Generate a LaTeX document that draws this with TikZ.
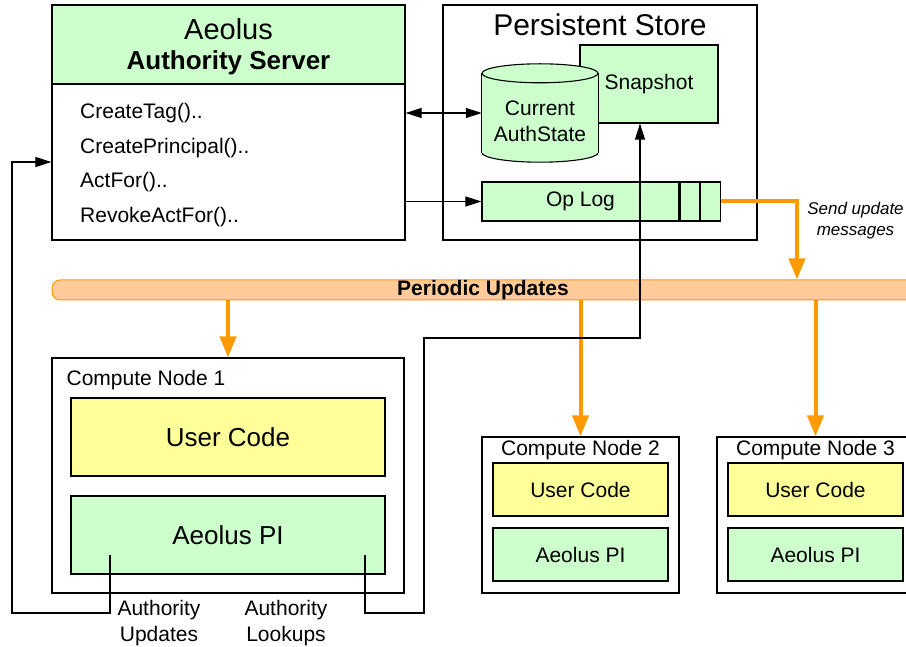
\documentclass[tikz,border=0pt]{standalone}
\usepackage{fontspec}
\setmainfont{Liberation Sans}
\usetikzlibrary{arrows.meta, calc, positioning}

\definecolor{paleGreen}{HTML}{CCFFCC}
\definecolor{paleYellow}{HTML}{FFFF99}
\definecolor{barFill}{HTML}{FFCC99}
\definecolor{barLine}{HTML}{FF9900}

\begin{document}
\begin{tikzpicture}[x=1pt, y=-1pt,
	>={Triangle[length=16pt, width=10pt]},
	box/.style={draw, line width=1.2pt, inner sep=0pt},
	greenbox/.style={box, fill=paleGreen},
	userbox/.style={box, fill=paleYellow},
	txt/.style={inner sep=0pt, align=center, font=\fontsize{21}{26}\selectfont},
	blk/.style={line width=1.1pt},
	upd/.style={barLine, line width=4pt, -{Triangle[length=21pt, width=16pt]}}]
	%    fixed frame of the picture
	\useasboundingbox (0,0) rectangle (906,647);
	\clip (0,0) rectangle (906,647);
	
	% authority server
	\node[greenbox, minimum width=353, minimum height=79] (header) at (228.5,44.5) {};
	\node[box, minimum width=353, minimum height=235] (server) at (228.5,122.5) {};
	\node[txt, font=\fontsize{29}{34}\selectfont] (title) at (228.5,29) {Aeolus};
	\node[txt, font=\fontsize{26}{30}\bfseries] (subtitle) at (228.5,63) {Authority Server};
	\node[txt, align=left, anchor=west, font=\fontsize{21}{34.7}\selectfont] (calls) at (80,165)
		{CreateTag()..\\CreatePrincipal()..\\ActFor()..\\RevokeActFor()..};
	
	% persistent store
	\node[box, minimum width=314, minimum height=235] (store) at (600,122.5) {};
	\node[txt, font=\fontsize{30}{34}\selectfont] (storetitle) at ($(store.north)+(0,20)$) {Persistent Store};
	\node[greenbox, txt, minimum width=138, minimum height=78] (snap) at (649,84) {Snapshot};
	\node[minimum width=116, minimum height=98, inner sep=0pt] (cur) at (540,113) {};
	\draw[blk, fill=paleGreen] ($(cur.south)+(0,-9.5)$) ellipse [x radius=58, y radius=9.5];
	\fill[paleGreen] ($(cur.north west)+(0,9.5)$) rectangle ($(cur.south east)+(0,-9.5)$);
	\draw[blk] ($(cur.north west)+(0,9.5)$) -- ($(cur.south west)+(0,-9.5)$)
		($(cur.north east)+(0,9.5)$) -- ($(cur.south east)+(0,-9.5)$);
	\draw[blk, fill=paleGreen] ($(cur.north)+(0,9.5)$) ellipse [x radius=58, y radius=9.5];
	\node[txt] (curtxt) at ($(cur.center)+(0,8)$) {Current\\AuthState};
	\node[greenbox, txt, minimum width=197, minimum height=39] (oplog) at (580.5,201.5) {Op Log};
	\node[greenbox, minimum width=19, minimum height=39, right=0pt of oplog] (slotA) {};
	\node[greenbox, minimum width=20, minimum height=39, right=0pt of slotA] (slotB) {};
	
	\draw[blk, <->] (server.east |- cur.west) -- (cur.west);
	\draw[blk, ->] (server.east |- oplog.west) -- (oplog.west);
	
	% update bar
	\node[draw=barLine, fill=barFill, line width=1pt, rounded corners=8pt,
		minimum width=948, minimum height=20, inner sep=0pt] (bar) at (526,290) {};
	\node[txt, font=\fontsize{21}{24}\bfseries] (bartxt) at (483,290) {Periodic Updates};
	\coordinate (drop) at (797,0);
	\draw[upd] (slotB.east) -| (drop |- bar.north);
	\node[txt, font=\fontsize{17}{21}\itshape] (sendtxt) at (855.5,221) {Send update\\messages};
	
	% compute nodes
	\node[box, minimum width=352, minimum height=235] (nodeA) at (228,475.5) {};
	\node[txt, anchor=west] (nodeAtxt) at ($(nodeA.north west)+(15,23)$) {Compute Node 1};
	\node[userbox, txt, font=\fontsize{26}{30}\selectfont, minimum width=314, minimum height=78] (userA) at (228,437) {User Code};
	\node[greenbox, txt, font=\fontsize{26}{30}\selectfont, minimum width=314, minimum height=78] (piA) at (228,535) {Aeolus PI};
	
	\node[box, minimum width=197, minimum height=156] (nodeB) at (580.5,515) {};
	\node[txt] (nodeBtxt) at ($(nodeB.north)+(0,14)$) {Compute Node 2};
	\node[userbox, txt, minimum width=175, minimum height=53] (userB) at (580.5,489.5) {User Code};
	\node[greenbox, txt, minimum width=175, minimum height=53] (piB) at (580.5,554.5) {Aeolus PI};
	
	\node[box, minimum width=197, minimum height=156] (nodeC) at (815.5,515) {};
	\node[txt] (nodeCtxt) at ($(nodeC.north)+(0,14)$) {Compute Node 3};
	\node[userbox, txt, minimum width=175, minimum height=53] (userC) at (815.5,489.5) {User Code};
	\node[greenbox, txt, minimum width=175, minimum height=53] (piC) at (815.5,554.5) {Aeolus PI};
	
	\draw[upd] (bar.south -| nodeA.north) -- (nodeA.north);
	\draw[upd] (bar.south -| nodeB.north) -- (nodeB.north);
	\draw[upd] (bar.south -| nodeC.north) -- (nodeC.north);
	
	% authority lookups and updates
	\coordinate (lookup) at (365,555);
	\coordinate (lookx) at (640,338);
	\draw[blk, ->] (lookup) -- (365,613) -- (424,613) -- (424,338) -- (lookx) -- (lookx |- snap.south);
	\coordinate (update) at (110,555);
	\coordinate (upx) at (12,162);
	\draw[blk, ->] (update) -- (110,613) -- (12,613) -- (upx) -- (server.west |- upx);
	\node[txt] (updtxt) at (159,623) {Authority\\Updates};
	\node[txt] (looktxt) at (286,623) {Authority\\Lookups};
\end{tikzpicture}
\end{document}
